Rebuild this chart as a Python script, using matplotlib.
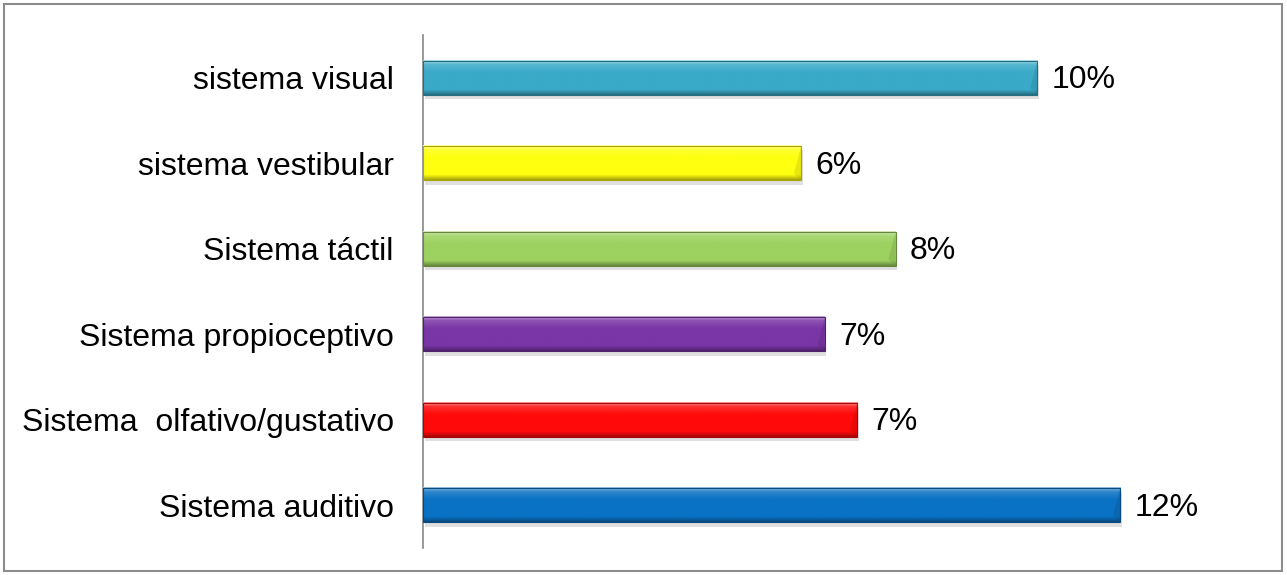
import numpy as np
import matplotlib.pyplot as plt
import matplotlib.colors as mcolors
from matplotlib.patches import Rectangle

plt.rcParams["font.family"] = ["Liberation Sans", "DejaVu Sans"]

categorias = ["Sistema auditivo", "Sistema  olfativo/gustativo", "Sistema propioceptivo",
              "Sistema táctil", "sistema vestibular", "sistema visual"]
valores = [11.8, 7.35, 6.8, 8.0, 6.4, 10.4]
etiquetas = ["12%", "7%", "7%", "8%", "6%", "10%"]
colores = ["#0a72c4", "#ff0a0a", "#7a35a6", "#9dd160", "#ffff10", "#3aaac8"]

fig = plt.figure(figsize=(12.87, 5.75), dpi=100)
ax = fig.add_axes([423 / 1287, 1 - 548 / 575, (1240 - 423) / 1287, 513 / 575])

y = np.arange(len(categorias))
alto = 0.40
barras = ax.barh(y, valores, height=alto, color="none", edgecolor="none", zorder=3)


def degradado(color):
    base = np.array(mcolors.to_rgb(color))
    t = np.linspace(0, 1, 60)
    filas = []
    for v in t:
        if v < 0.12:
            c = base + (1 - base) * (0.45 * (1 - v / 0.12) + 0.15)
        elif v < 0.35:
            c = base + (1 - base) * 0.15 * (1 - (v - 0.12) / 0.23)
        elif v < 0.85:
            c = base
        else:
            c = base * (1 - 0.35 * (v - 0.85) / 0.15)
        filas.append(np.clip(c, 0, 1))
    return np.array(filas)[:, None, :]


for b, col in zip(barras, colores):
    x0, y0, w, h = b.get_x(), b.get_y(), b.get_width(), b.get_height()
    # sombra
    ax.add_patch(Rectangle((x0 + 0.03, y0 - 0.05), w, h, facecolor="#000000",
                           alpha=0.12, edgecolor="none", zorder=2))
    ax.imshow(degradado(col), extent=[x0, x0 + w, y0, y0 + h], aspect="auto",
              origin="upper", zorder=3, interpolation="bilinear")
    oscuro = np.array(mcolors.to_rgb(col)) * 0.65
    ax.add_patch(Rectangle((x0, y0), w, h, facecolor="none", edgecolor=oscuro,
                           linewidth=0.8, zorder=4))
    # bisel del extremo
    ax.fill([x0 + w - 0.12, x0 + w, x0 + w], [y0 + h * 0.2, y0, y0 + h],
            color=oscuro, alpha=0.25, zorder=4, linewidth=0)

for yi, v, lab in zip(y, valores, etiquetas):
    ax.text(v + 0.24, yi - 0.03, lab, va="center", ha="left", fontsize=23, color="#000000")

ax.set_xlim(0, 13.83)
ax.set_ylim(-0.5, 5.5)
ax.set_yticks(y)
ax.set_yticklabels(categorias, fontsize=23)
ax.tick_params(axis="y", length=0, pad=21)
ax.set_xticks([])
for s in ["top", "right", "bottom"]:
    ax.spines[s].set_visible(False)
ax.spines["left"].set_color("#888888")
ax.spines["left"].set_linewidth(1.2)

fig.patches.append(Rectangle((4 / 1287, 4 / 575), 1278 / 1287, 567 / 575,
                             transform=fig.transFigure, facecolor="none",
                             edgecolor="#8c8c8c", linewidth=1.5))

plt.savefig("out.png", dpi=100)
